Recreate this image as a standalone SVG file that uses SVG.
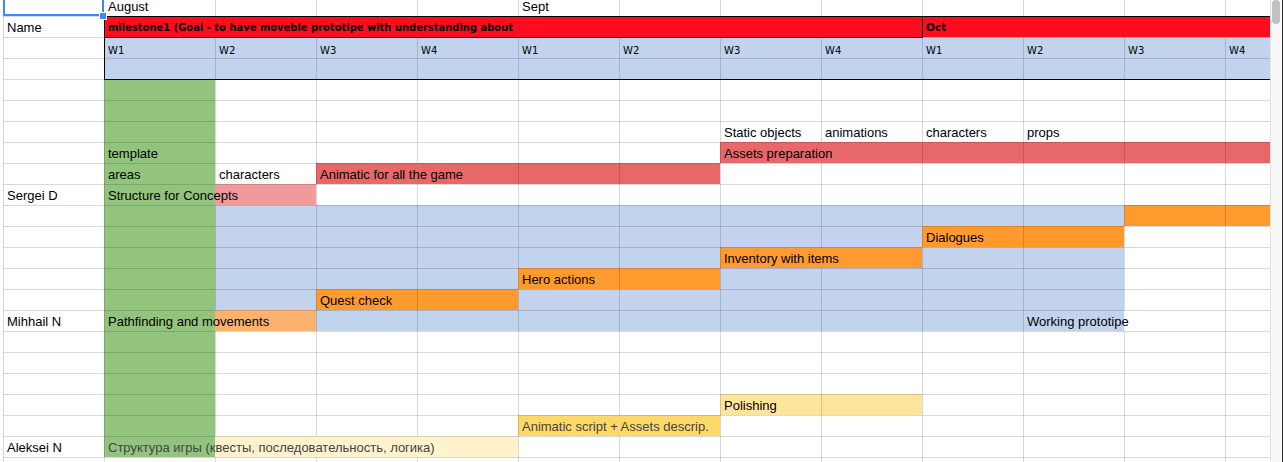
<svg xmlns="http://www.w3.org/2000/svg" width="1283" height="462" viewBox="0 0 1283 462">
<style>
.t{font-family:"Liberation Sans",Arial,sans-serif;font-size:13px;fill:#000}
.gr{fill:#444}
.w{font-family:"DejaVu Sans",Verdana,sans-serif;font-size:10px;fill:#000}
.b{font-family:"DejaVu Sans",Verdana,sans-serif;font-size:10.5px;font-weight:bold;fill:#000}
.grid{stroke:#000;stroke-opacity:.15;stroke-width:1;fill:none}
.border{stroke:#000;stroke-width:1;fill:none}
.blue{fill:#c2d3ee}
.orange{fill:#ff9a2f}
.red{fill:#e8686a}
</style>
<rect x="0" y="0" width="1283" height="462" fill="#fff"/>

<g id="header-months">
<text class="t" x="108" y="11">August</text>
<text class="t" x="522" y="11">Sept</text>
</g>
<g id="name-header"><text class="t" x="7" y="32">Name</text></g>

<g id="milestone1">
<rect x="104" y="16" width="1166" height="21" fill="#ff0c1f"/>
<text class="b" x="108" y="31" textLength="405" lengthAdjust="spacingAndGlyphs">milestone1 (Goal - to have moveble prototipe with understanding about</text>
<text class="b" x="926" y="31">Oct</text>
</g>

<g id="weeks">
<rect class="blue" x="104" y="37" width="1166" height="42"/>
<text class="w" x="108" y="54">W1</text>
<text class="w" x="219" y="54">W2</text>
<text class="w" x="320" y="54">W3</text>
<text class="w" x="421" y="54">W4</text>
<text class="w" x="522" y="54">W1</text>
<text class="w" x="623" y="54">W2</text>
<text class="w" x="724" y="54">W3</text>
<text class="w" x="825" y="54">W4</text>
<text class="w" x="926" y="54">W1</text>
<text class="w" x="1027" y="54">W2</text>
<text class="w" x="1128" y="54">W3</text>
<text class="w" x="1229" y="54">W4</text>
</g>

<g id="concept-column">
<rect x="104" y="79" width="111" height="378" fill="#93c47d"/>
<text class="t" x="108" y="158">template</text>
<text class="t" x="108" y="179">areas</text>
</g>

<g id="asset-labels">
<text class="t" x="724" y="137">Static objects</text>
<text class="t" x="825" y="137">animations</text>
<text class="t" x="926" y="137">characters</text>
<text class="t" x="1027" y="137">props</text>
</g>

<g id="assets-preparation">
<rect class="red" x="720" y="142" width="550" height="21"/>
<text class="t" x="724" y="158">Assets preparation</text>
</g>

<g id="characters"><text class="t" x="219" y="179">characters</text></g>

<g id="animatic">
<rect class="red" x="316" y="163" width="404" height="21"/>
<text class="t" x="320" y="179">Animatic for all the game</text>
</g>

<g id="sergei-d">
<rect x="215" y="184" width="101" height="21" fill="#f09a9b"/>
<text class="t" x="7" y="200">Sergei D</text>
<text class="t" x="108" y="200">Structure for Concepts</text>
</g>

<g id="prototype-span">
<rect class="blue" x="215" y="205" width="909" height="21"/>
<rect class="blue" x="215" y="226" width="707" height="21"/>
<rect class="blue" x="215" y="247" width="505" height="21"/>
<rect class="blue" x="922" y="247" width="202" height="21"/>
<rect class="blue" x="215" y="268" width="303" height="21"/>
<rect class="blue" x="720" y="268" width="404" height="21"/>
<rect class="blue" x="215" y="289" width="101" height="21"/>
<rect class="blue" x="518" y="289" width="606" height="21"/>
<rect class="blue" x="316" y="310" width="808" height="21"/>
</g>

<g id="task-row10"><rect class="orange" x="1124" y="205" width="146" height="21"/></g>
<g id="dialogues">
<rect class="orange" x="922" y="226" width="202" height="21"/>
<text class="t" x="926" y="242">Dialogues</text>
</g>
<g id="inventory">
<rect class="orange" x="720" y="247" width="202" height="21"/>
<text class="t" x="724" y="263">Inventory with items</text>
</g>
<g id="hero-actions">
<rect class="orange" x="518" y="268" width="202" height="21"/>
<text class="t" x="522" y="284">Hero actions</text>
</g>
<g id="quest-check">
<rect class="orange" x="316" y="289" width="202" height="21"/>
<text class="t" x="320" y="305">Quest check</text>
</g>
<g id="mihhail-n">
<rect x="215" y="310" width="101" height="21" fill="#fbb26f"/>
<text class="t" x="7" y="326">Mihhail N</text>
<text class="t" x="108" y="326">Pathfinding and movements</text>
</g>
<g id="working-prototype"><text class="t" x="1027" y="326">Working prototipe</text></g>

<g id="polishing">
<rect x="720" y="394" width="202" height="21" fill="#ffe59c"/>
<text class="t" x="724" y="410">Polishing</text>
</g>
<g id="animatic-script">
<rect x="518" y="415" width="202" height="21" fill="#ffd967"/>
<text class="t gr" x="522" y="431">Animatic script + Assets descrip.</text>
</g>
<g id="aleksei-n">
<rect x="215" y="436" width="303" height="21" fill="#fff2cc"/>
<text class="t" x="7" y="452">Aleksei N</text>
<text class="t gr" x="108" y="452">Структура игры (квесты, последовательность, логика)</text>
</g>

<g id="gridlines">
<path class="grid" d="M3 16.5H1270M3 37.5H1270M3 58.5H1270M3 79.5H1270M3 100.5H1270M3 121.5H1270M3 142.5H1270M3 163.5H1270M3 184.5H1270M3 205.5H1270M3 226.5H1270M3 247.5H1270M3 268.5H1270M3 289.5H1270M3 310.5H1270M3 331.5H1270M3 352.5H1270M3 373.5H1270M3 394.5H1270M3 415.5H1270M3 436.5H1270M3 457.5H1270"/>
<path class="grid" d="M3.5 0V462M104.5 16V462M215.5 0V16M215.5 37V184M215.5 205V310M215.5 331V436M215.5 457V462M316.5 0V16M316.5 37V436M316.5 457V462M417.5 0V16M417.5 37V163M417.5 184V436M417.5 457V462M518.5 0V16M518.5 37V462M619.5 0V16M619.5 37V415M619.5 436V462M720.5 0V16M720.5 37V462M821.5 0V16M821.5 37V142M821.5 163V247M821.5 268V462M922.5 0V462M1023.5 0V16M1023.5 37V462M1124.5 0V16M1124.5 37V310M1124.5 331V462M1225.5 0V16M1225.5 37V462"/>
</g>

<g id="header-border">
<path class="border" d="M104 16.5H1270M104 37.5H922.5M104 79.5H1270M104.5 16V80M922.5 16V38"/>
</g>

<g id="selection">
<path d="M4 -2V15H103V-2" fill="none" stroke="#4285f4" stroke-width="2"/>
<rect x="99.5" y="12.5" width="7" height="7" fill="#4285f4" stroke="#fff" stroke-width="1"/>
</g>

<g id="scrollbar">
<rect x="1270" y="0" width="13" height="462" fill="#f8f8f8"/>
<path d="M1270.5 0V462" stroke="#e3e3e3"/>
<rect x="1272" y="0" width="8" height="24" rx="4" fill="#c2c2c2"/>
<path d="M1282.5 0V462" stroke="#2b2b2b"/>
</g>
</svg>
